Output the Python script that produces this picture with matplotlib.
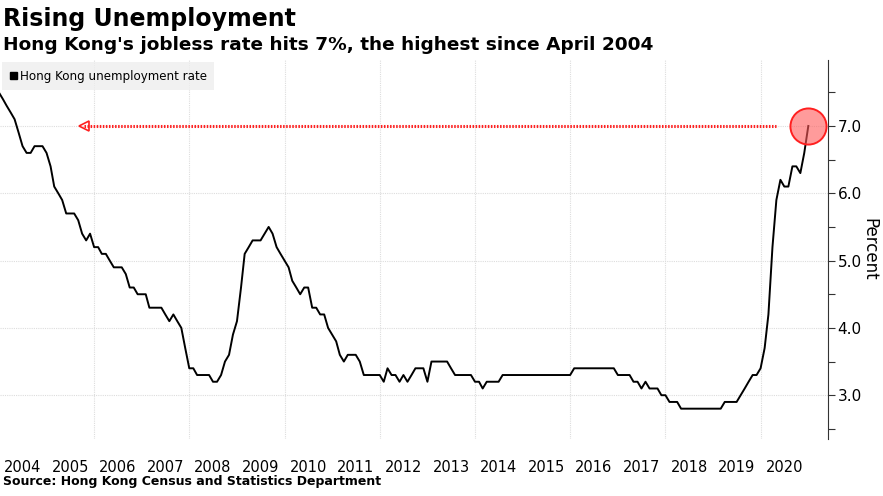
import numpy as np
import pandas as pd
from matplotlib import pyplot as plt

# monthly rate, Jan 2004 - Jan 2021
rate = [
    7.5, 7.4, 7.3, 7.2, 7.1, 6.9, 6.7, 6.6, 6.6, 6.7, 6.7, 6.7,   # 2004
    6.6, 6.4, 6.1, 6.0, 5.9, 5.7, 5.7, 5.7, 5.6, 5.4, 5.3, 5.4,   # 2005
    5.2, 5.2, 5.1, 5.1, 5.0, 4.9, 4.9, 4.9, 4.8, 4.6, 4.6, 4.5,   # 2006
    4.5, 4.5, 4.3, 4.3, 4.3, 4.3, 4.2, 4.1, 4.2, 4.1, 4.0, 3.7,   # 2007
    3.4, 3.4, 3.3, 3.3, 3.3, 3.3, 3.2, 3.2, 3.3, 3.5, 3.6, 3.9,   # 2008
    4.1, 4.6, 5.1, 5.2, 5.3, 5.3, 5.3, 5.4, 5.5, 5.4, 5.2, 5.1,   # 2009
    5.0, 4.9, 4.7, 4.6, 4.5, 4.6, 4.6, 4.3, 4.3, 4.2, 4.2, 4.0,   # 2010
    3.9, 3.8, 3.6, 3.5, 3.6, 3.6, 3.6, 3.5, 3.3, 3.3, 3.3, 3.3,   # 2011
    3.3, 3.2, 3.4, 3.3, 3.3, 3.2, 3.3, 3.2, 3.3, 3.4, 3.4, 3.4,   # 2012
    3.2, 3.5, 3.5, 3.5, 3.5, 3.5, 3.4, 3.3, 3.3, 3.3, 3.3, 3.3,   # 2013
    3.2, 3.2, 3.1, 3.2, 3.2, 3.2, 3.2, 3.3, 3.3, 3.3, 3.3, 3.3,   # 2014
    3.3, 3.3, 3.3, 3.3, 3.3, 3.3, 3.3, 3.3, 3.3, 3.3, 3.3, 3.3,   # 2015
    3.3, 3.4, 3.4, 3.4, 3.4, 3.4, 3.4, 3.4, 3.4, 3.4, 3.4, 3.4,   # 2016
    3.3, 3.3, 3.3, 3.3, 3.2, 3.2, 3.1, 3.2, 3.1, 3.1, 3.1, 3.0,   # 2017
    3.0, 2.9, 2.9, 2.9, 2.8, 2.8, 2.8, 2.8, 2.8, 2.8, 2.8, 2.8,   # 2018
    2.8, 2.8, 2.8, 2.9, 2.9, 2.9, 2.9, 3.0, 3.1, 3.2, 3.3, 3.3,   # 2019
    3.4, 3.7, 4.2, 5.2, 5.9, 6.2, 6.1, 6.1, 6.4, 6.4, 6.3, 6.6,   # 2020
    7.0,                                                          # 2021
]
dates = pd.date_range('2004-01-01', periods=len(rate), freq='MS')
years = list(range(2004, 2021))
yticks = [3.0, 4.0, 5.0, 6.0, 7.0]
red = '#ff2020'

fig = plt.figure(figsize=(8.83, 4.96), dpi=100)
ax = fig.add_axes([0.0, 0.115, 0.9377, 0.764])

ax.plot(dates, rate, c='black', linewidth=1.4, zorder=3)

# 7% reference line, dotted, arrow head on the left
arrow_x = [pd.Timestamp('2005-10-15'), pd.Timestamp('2020-05-01')]
ax.plot(arrow_x, [7.0, 7.0], color=red, lw=2.2, ls=(0, (0.5, 0.5)), zorder=2)
ax.plot([arrow_x[0]], [7.0], marker='<', ms=7, mfc='none', mec=red, mew=1.2,
        ls='none', zorder=2)
ax.plot([dates[-1]], [rate[-1]], 'o', ms=26, mfc=(1, 0.35, 0.35, 0.6), mec=red, mew=1.4,
        ls='none', zorder=4)

ax.set_xlim(pd.Timestamp('2004-01-10'), pd.Timestamp('2021-06-01'))
ax.set_ylim(2.35, 7.98)

ax.yaxis.tick_right()
ax.set_yticks(np.arange(2.5, 8.0, 0.5))
ax.set_yticklabels(['%.1f' % v if v in yticks else '' for v in np.arange(2.5, 8.0, 0.5)])
ax.tick_params(axis='y', direction='out', length=5, labelsize=11, pad=2, color='#333333')
ax.set_ylabel('Percent', rotation=-90, fontsize=12, labelpad=12)
ax.yaxis.set_label_position('right')

ax.set_xticks([pd.Timestamp(f'{y}-07-01') for y in years])
ax.set_xticklabels([str(y) for y in years])
ax.tick_params(axis='x', length=0, labelsize=10.5, pad=15)

for v in yticks:
    ax.axhline(v, color='#dddddd', lw=0.8, ls=(0, (1, 1)), zorder=1)
for y in range(2006, 2021, 2):
    ax.axvline(pd.Timestamp(f'{y}-01-01'), color='#dddddd', lw=0.8, ls=(0, (1, 1)), zorder=1)

for s in ['top', 'left', 'bottom']:
    ax.spines[s].set_visible(False)
ax.spines['right'].set_color('#333333')

leg = ax.legend([plt.Rectangle((0, 0), 1, 1, color='black')], ['Hong Kong unemployment rate'],
                loc='upper left', bbox_to_anchor=(0.0, 1.0), frameon=True, fontsize=8.6,
                handlelength=0.6, handleheight=0.6, handletextpad=0.3, borderpad=0.6,
                fancybox=False, borderaxespad=0.2)
leg.get_frame().set_facecolor('#eeeeee')
leg.get_frame().set_edgecolor('none')

fig.text(0.003, 0.962, 'Rising Unemployment', fontsize=17, fontweight='bold', va='center')
fig.text(0.003, 0.91, "Hong Kong's jobless rate hits 7%, the highest since April 2004",
         fontsize=13.3, fontweight='bold', va='center')
fig.text(0.003, 0.016, 'Source: Hong Kong Census and Statistics Department',
         fontsize=9, fontweight='bold', va='bottom')

fig.savefig('out.png', dpi=100)
